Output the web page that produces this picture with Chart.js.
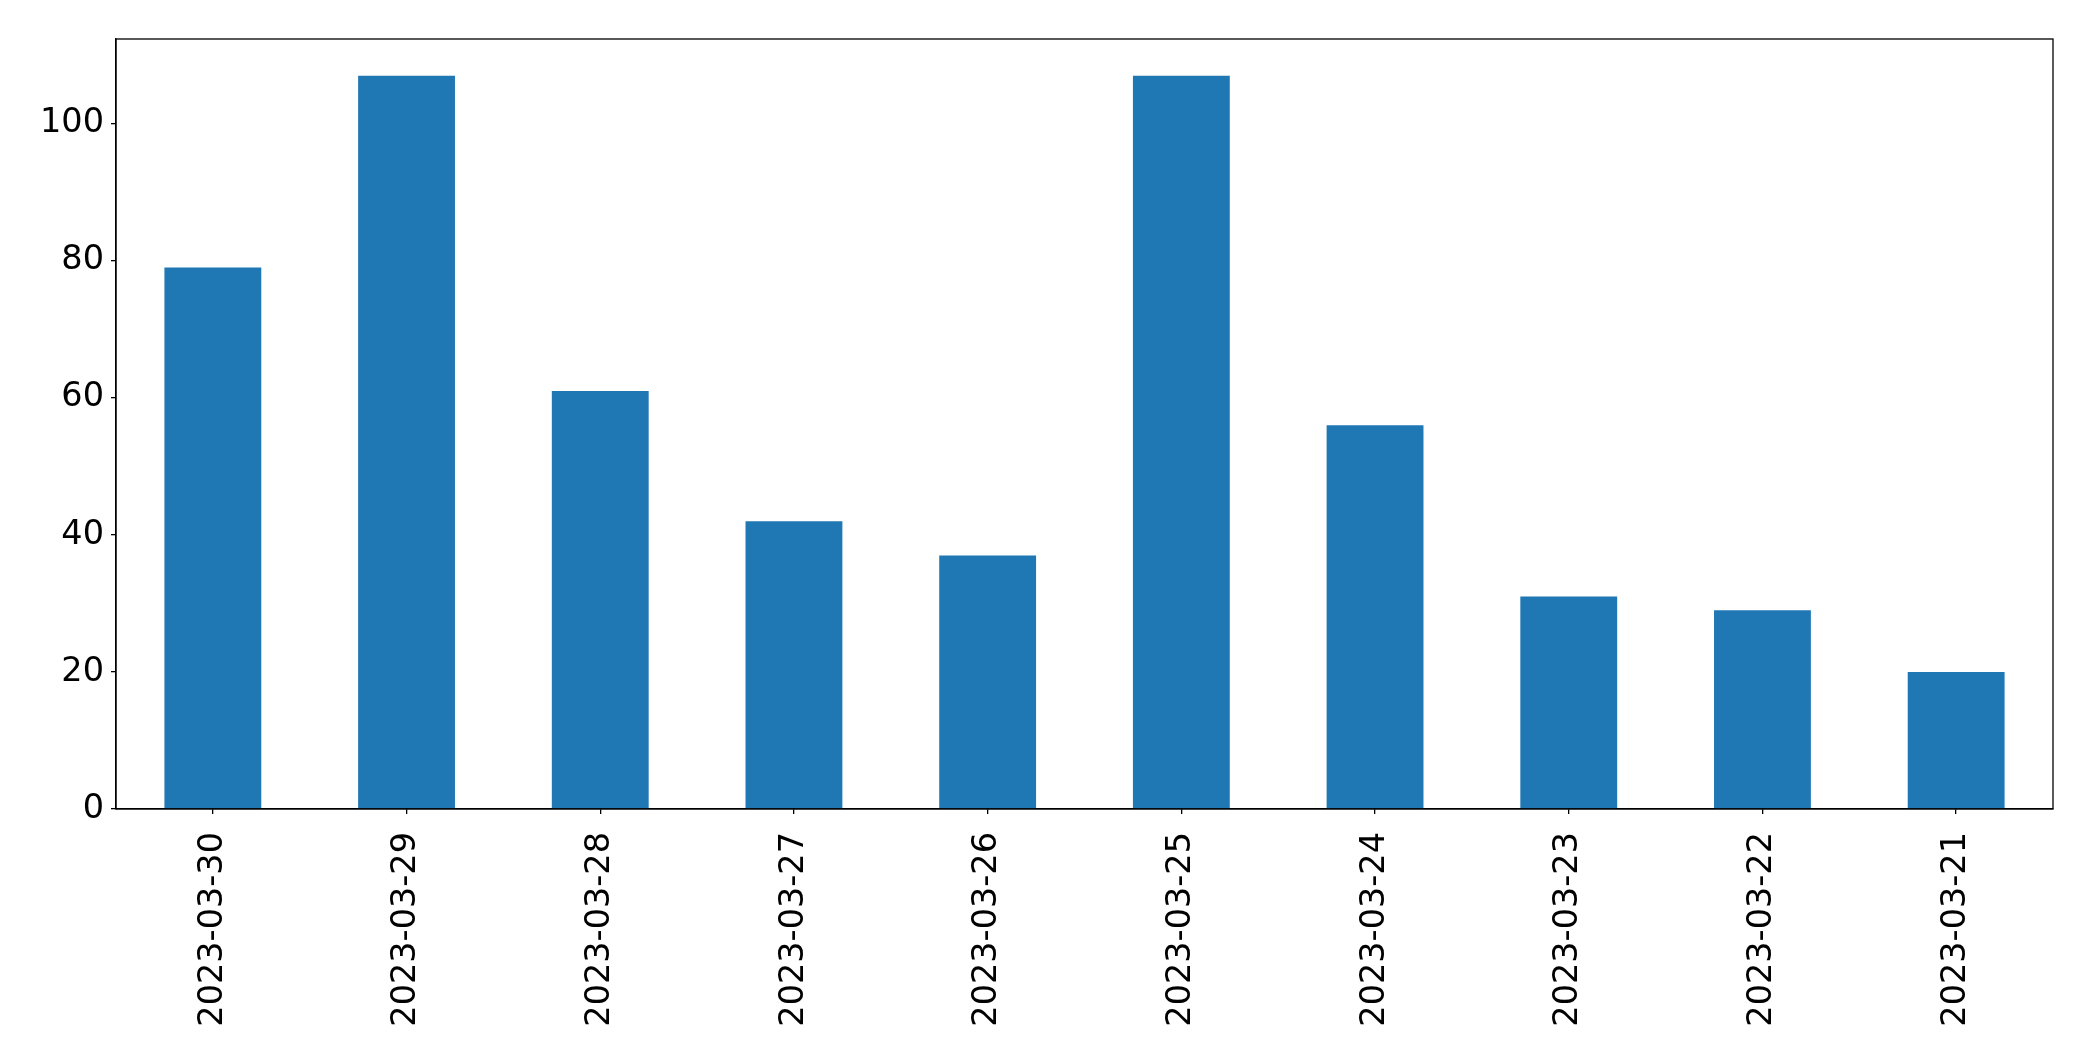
<!DOCTYPE html>
<html>
<head>
<meta charset="utf-8">
<script src="https://cdn.jsdelivr.net/npm/chart.js@4"></script>
<style>html,body{margin:0;padding:0;background:#fff}canvas{display:block}</style>
</head>
<body>
<canvas id="c" width="2093" height="1061"></canvas>
<script>
// ─── DATA ───────────────────────────────────────────
const dates=['2023-03-30','2023-03-29','2023-03-28','2023-03-27','2023-03-26','2023-03-25','2023-03-24','2023-03-23','2023-03-22','2023-03-21'];
const counts=[79,107,61,42,37,107,56,31,29,20];
const yMax=112.35,yStep=20;

// frame box round the plot area (matplotlib style)
const frameBox={id:'frameBox',afterDraw(chart){const{ctx,chartArea:a}=chart;ctx.save();ctx.strokeStyle='#000';ctx.lineWidth=1.3;ctx.strokeRect(a.left,a.top,a.right-a.left,a.bottom-a.top);ctx.restore()}};

const font={family:'DejaVu Sans',size:33.5};
new Chart(document.getElementById('c'),{
  type:'bar',
  data:{labels:dates,datasets:[{data:counts,backgroundColor:'#1f77b4',barPercentage:0.5,categoryPercentage:1,borderWidth:0}]},
  options:{responsive:false,animation:false,events:[],
    layout:{padding:{top:39,right:40,left:0,bottom:0}},
    plugins:{legend:{display:false},tooltip:{enabled:false}},
    scales:{
      x:{offset:true,grid:{display:true,drawOnChartArea:false,offset:false,tickLength:5,color:'#000',lineWidth:1.3},
        border:{display:true,color:'#000',width:1.3},
        ticks:{color:'#000',font,minRotation:90,maxRotation:90,autoSkip:false,padding:18},
        afterFit(s){s.height=252}},
      y:{min:0,max:yMax,grid:{display:true,drawOnChartArea:false,tickLength:5,color:'#000',lineWidth:1.3},
        border:{display:true,color:'#000',width:1.3},
        ticks:{color:'#000',font,stepSize:yStep,padding:7},
        afterBuildTicks(s){s.ticks=s.ticks.filter(t=>t.value%yStep===0)},
        afterFit(s){s.width=116}}
    }},
  plugins:[frameBox]
});
</script>
</body>
</html>
